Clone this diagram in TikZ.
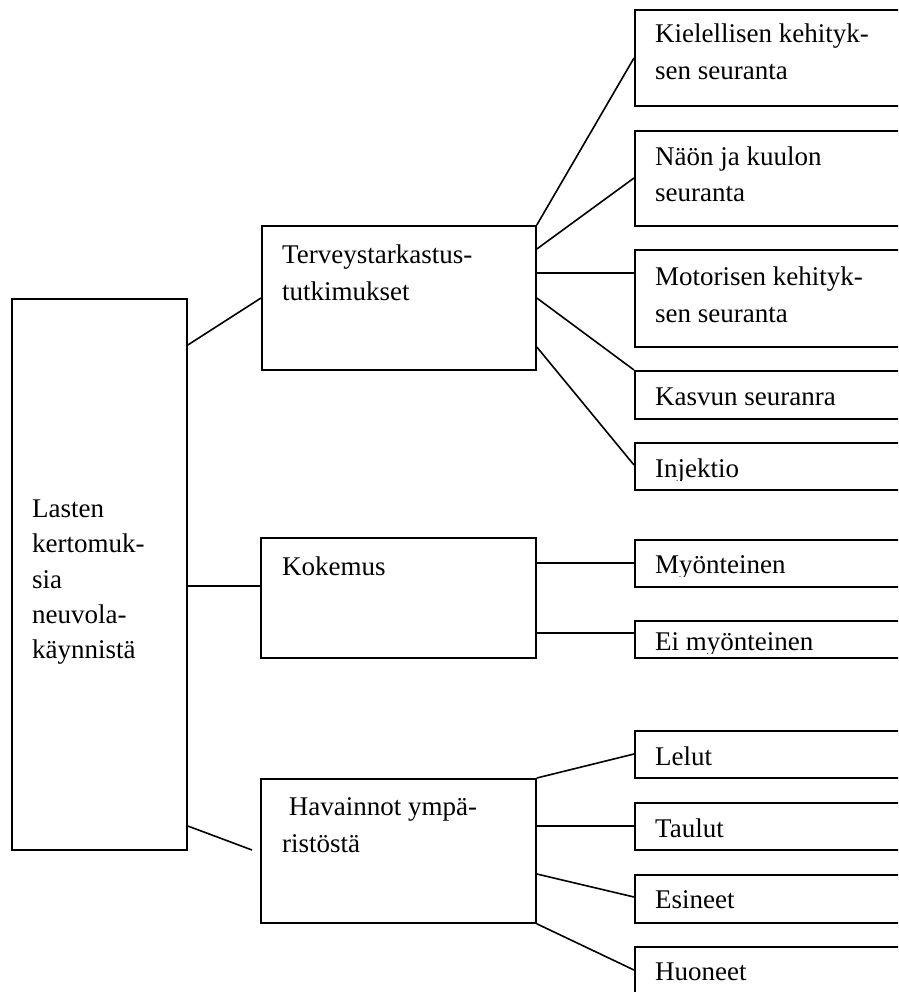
\documentclass[tikz,border=0pt]{standalone}
\usepackage{fontspec}
\setmainfont{Liberation Serif}
\begin{document}
\begin{tikzpicture}[x=1pt,y=-1pt,
  box/.style={draw, line width=1.8pt, inner sep=0pt, anchor=north west},
  lbl/.style={anchor=base west, inner sep=0pt, font=\fontsize{27}{36}\selectfont},
  conn/.style={line width=1.6pt}]
\useasboundingbox (0,0) rectangle (898,992);
\clip (0,0) rectangle (898,992);
% main boxes
\node[box, minimum width=175pt, minimum height=551pt] (L) at (11,298) {};
\node[box, minimum width=274pt, minimum height=144pt] (T) at (261,225) {};
\node[box, minimum width=275pt, minimum height=120pt] (K) at (260,537) {};
\node[box, minimum width=275pt, minimum height=144pt] (H) at (260,778) {};
% right boxes (open to the right)
\node[box, minimum width=300pt, minimum height=96pt] (R1) at (634,9) {};
\node[box, minimum width=300pt, minimum height=95pt] (R2) at (634,130) {};
\node[box, minimum width=300pt, minimum height=97pt] (R3) at (634,249) {};
\node[box, minimum width=300pt, minimum height=48pt] (R4) at (634,370) {};
\node[box, minimum width=300pt, minimum height=47pt] (R5) at (634,442) {};
\node[box, minimum width=300pt, minimum height=47pt] (R6) at (634,539) {};
\node[box, minimum width=300pt, minimum height=37pt] (R7) at (634,620) {};
\node[box, minimum width=300pt, minimum height=47pt] (R8) at (634,730) {};
\node[box, minimum width=300pt, minimum height=47pt] (R9) at (634,802) {};
\node[box, minimum width=300pt, minimum height=48pt] (R10) at (634,874) {};
\node[box, minimum width=300pt, minimum height=60pt] (R11) at (634,946) {};
% texts
\node[lbl] (l1) at (32,517) {Lasten};
\node[lbl] (l2) at (32,552) {kertomuk-};
\node[lbl] (l3) at (32,588) {sia};
\node[lbl] (l4) at (32,623) {neuvola-};
\node[lbl] (l5) at (32,658) {käynnistä};
\node[lbl] (t1) at (282,263) {Terveystarkastus-};
\node[lbl] (t2) at (282,300) {tutkimukset};
\node[lbl] (k1) at (282,575) {Kokemus};
\node[lbl] (h1) at (282,815) {\ Havainnot ympä-};
\node[lbl] (h2) at (282,852) {ristöstä};
\node[lbl] (r1a) at (655,43) {Kielellisen kehityk-};
\node[lbl] (r1b) at (655,80) {sen seuranta};
\node[lbl] (r2a) at (655,166) {Näön ja kuulon};
\node[lbl] (r2b) at (655,202) {seuranta};
\node[lbl] (r3a) at (655,285) {Motorisen kehityk-};
\node[lbl] (r3b) at (655,322) {sen seuranta};
\node[lbl] (r4) at (655,405) {Kasvun seuranra};
\begin{scope}
\clip (634,442) rectangle (898,480);
\node[lbl] (r5) at (655,477) {Injektio};
\end{scope}
\begin{scope}
\clip (634,539) rectangle (898,576);
\node[lbl] (r6) at (655,573) {Myönteinen};
\end{scope}
\begin{scope}
\clip (634,620) rectangle (898,653);
\node[lbl] (r7) at (655,650) {Ei myönteinen};
\end{scope}
\node[lbl] (r8) at (655,765) {Lelut};
\node[lbl] (r9) at (655,837) {Taulut};
\node[lbl] (r10) at (655,908) {Esineet};
\node[lbl] (r11) at (655,980) {Huoneet};
% connectors
\coordinate (hend) at (252,850);
\draw[conn] (L.east |- 0,345) -- (T.west |- 0,298);
\draw[conn] (L.east |- 0,586) -- (K.west |- 0,586);
\draw[conn] (L.east |- 0,826) -- (hend);
\draw[conn] (T.north east) -- (R1.west |- 0,58);
\draw[conn] (T.east |- 0,249) -- (R2.west |- 0,178);
\draw[conn] (T.east |- 0,273) -- (R3.west |- 0,273);
\draw[conn] (T.east |- 0,298) -- (R4.north west);
\draw[conn] (T.east |- 0,347) -- (R5.west |- 0,465);
\draw[conn] (K.east |- 0,563) -- (R6.west |- 0,563);
\draw[conn] (K.east |- 0,633) -- (R7.west |- 0,633);
\draw[conn] (H.north east) -- (R8.west |- 0,754);
\draw[conn] (H.east |- 0,826) -- (R9.west |- 0,826);
\draw[conn] (H.east |- 0,874) -- (R10.west |- 0,897);
\draw[conn] (H.south east) -- (R11.west |- 0,970);
\end{tikzpicture}
\end{document}
